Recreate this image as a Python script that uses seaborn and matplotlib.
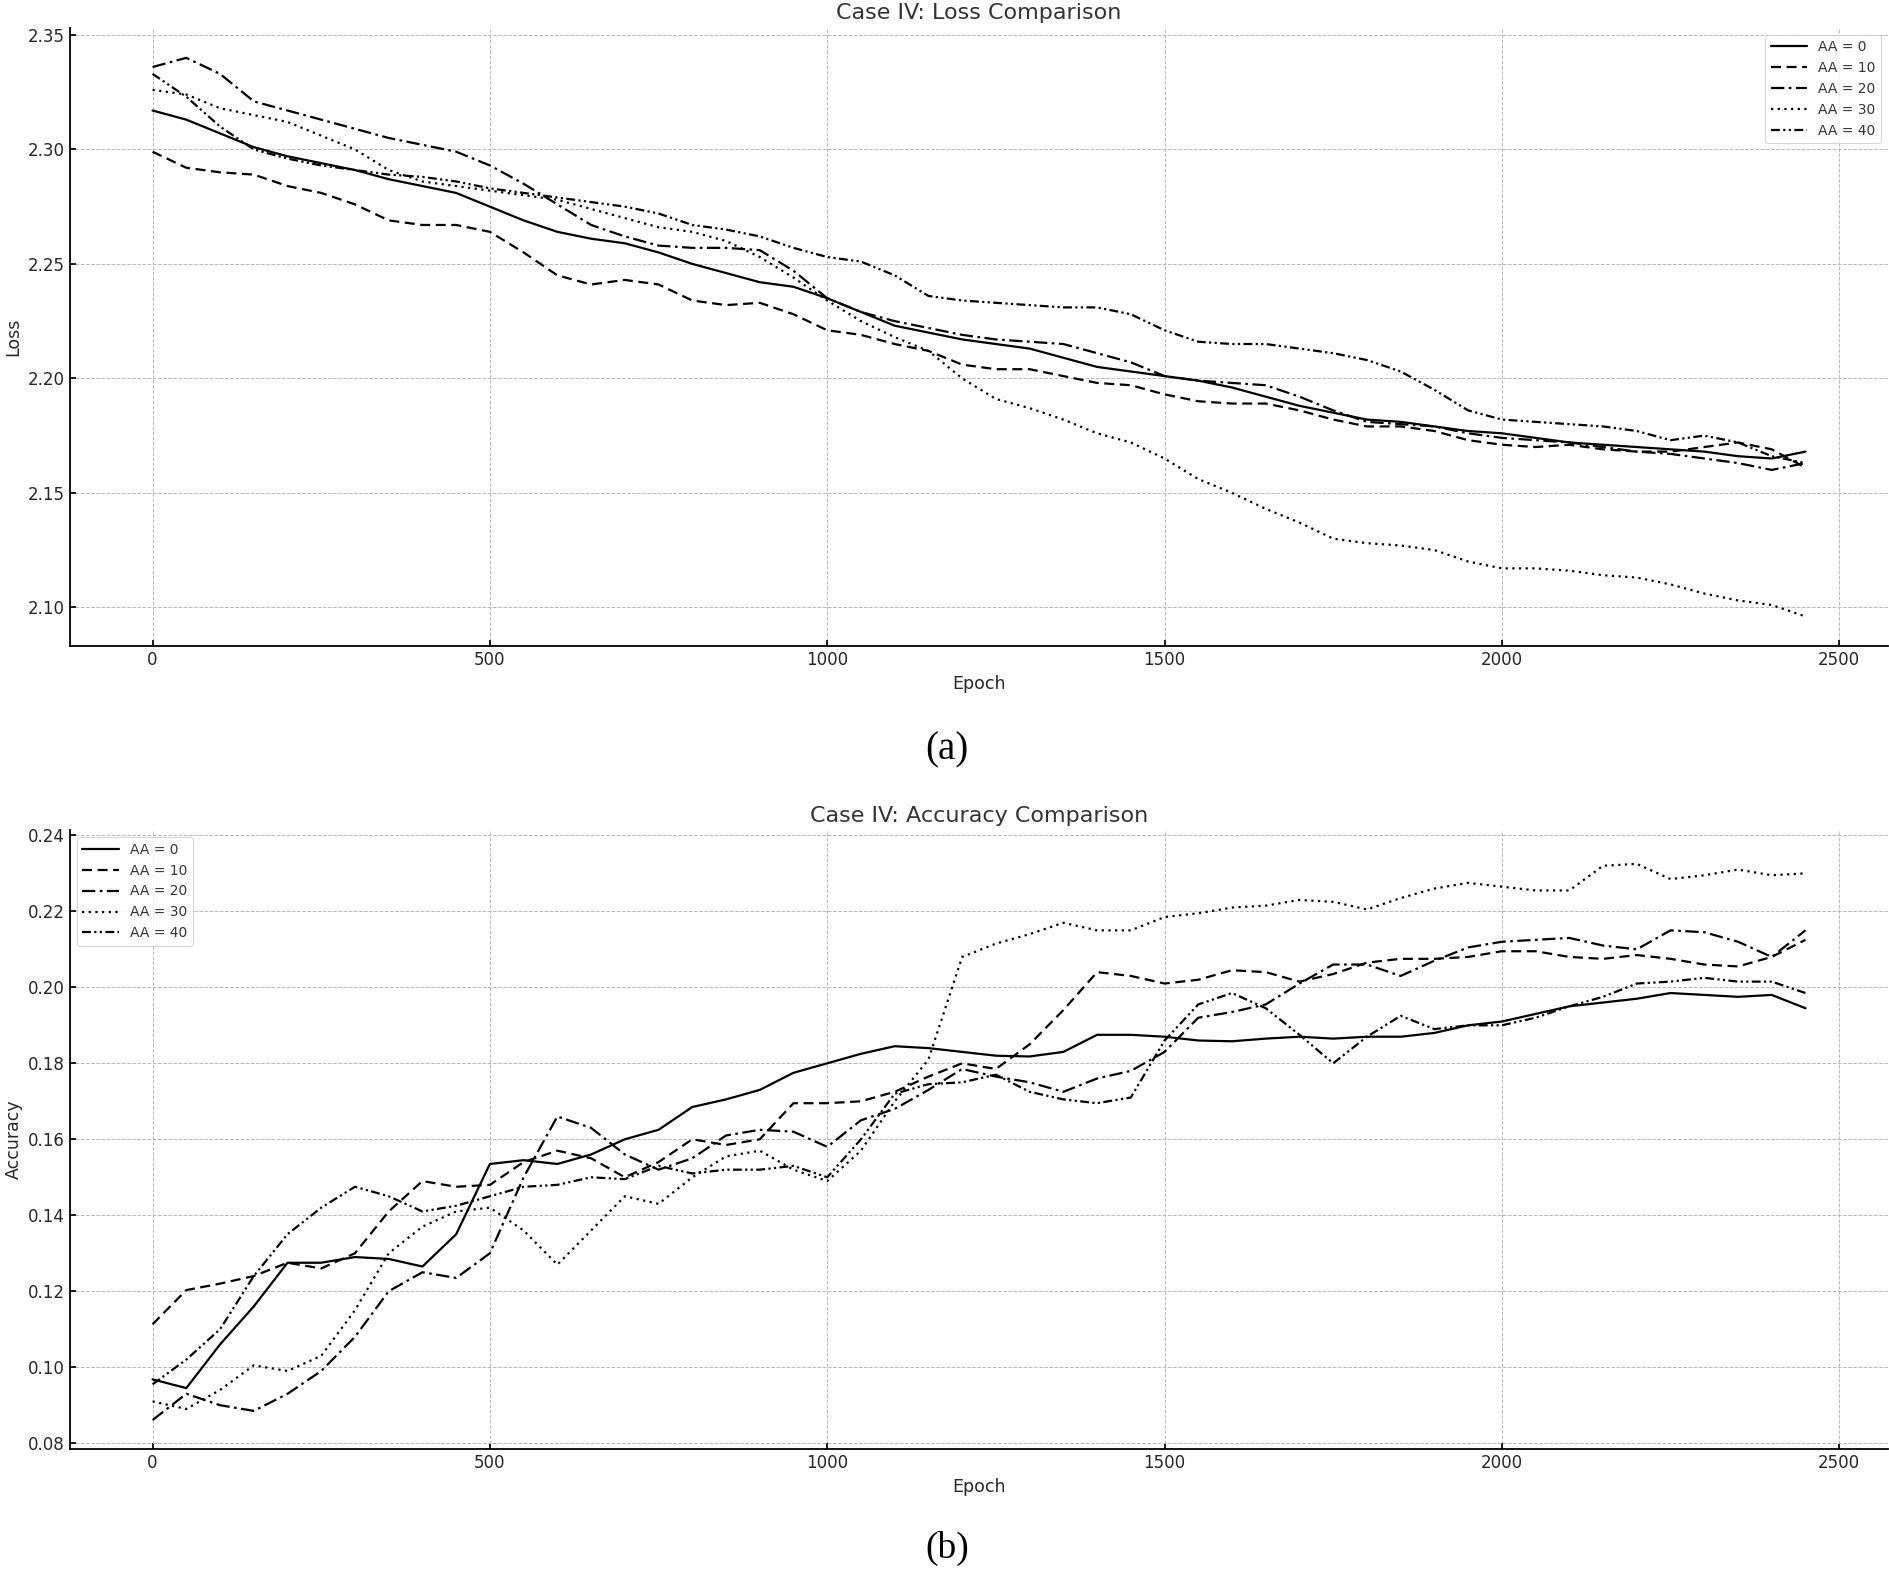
import numpy as np
import pandas as pd
import matplotlib
matplotlib.use("Agg")
import matplotlib.pyplot as plt
import seaborn as sns

# ---------------- data ----------------
epochs = list(range(0, 2451, 50))
series_labels = ["AA = 0", "AA = 10", "AA = 20", "AA = 30", "AA = 40"]

loss_aa0 = [2.317, 2.313, 2.307, 2.301, 2.297, 2.294, 2.291, 2.287, 2.284, 2.281,
            2.275, 2.269, 2.264, 2.261, 2.259, 2.255, 2.250, 2.246, 2.242, 2.240,
            2.235, 2.229, 2.223, 2.220, 2.217, 2.215, 2.213, 2.209, 2.205, 2.203,
            2.201, 2.199, 2.196, 2.192, 2.188, 2.185, 2.182, 2.181, 2.179, 2.177,
            2.176, 2.174, 2.172, 2.171, 2.170, 2.169, 2.168, 2.166, 2.165, 2.168]
loss_aa10 = [2.299, 2.292, 2.290, 2.289, 2.284, 2.281, 2.276, 2.269, 2.267, 2.267,
             2.264, 2.255, 2.245, 2.241, 2.243, 2.241, 2.234, 2.232, 2.233, 2.228,
             2.221, 2.219, 2.215, 2.212, 2.206, 2.204, 2.204, 2.201, 2.198, 2.197,
             2.193, 2.190, 2.189, 2.189, 2.186, 2.182, 2.179, 2.179, 2.177, 2.173,
             2.171, 2.170, 2.171, 2.169, 2.168, 2.168, 2.170, 2.172, 2.169, 2.161]
loss_aa20 = [2.336, 2.340, 2.333, 2.321, 2.317, 2.313, 2.309, 2.305, 2.302, 2.299,
             2.293, 2.285, 2.276, 2.267, 2.262, 2.258, 2.257, 2.257, 2.256, 2.247,
             2.235, 2.229, 2.225, 2.222, 2.219, 2.217, 2.216, 2.215, 2.211, 2.207,
             2.201, 2.199, 2.198, 2.197, 2.192, 2.186, 2.181, 2.180, 2.179, 2.176,
             2.174, 2.173, 2.172, 2.170, 2.168, 2.167, 2.165, 2.163, 2.160, 2.163]
loss_aa30 = [2.326, 2.324, 2.318, 2.315, 2.312, 2.306, 2.300, 2.291, 2.286, 2.284,
             2.282, 2.280, 2.278, 2.274, 2.270, 2.266, 2.264, 2.260, 2.253, 2.244,
             2.234, 2.225, 2.218, 2.212, 2.200, 2.191, 2.187, 2.182, 2.176, 2.172,
             2.165, 2.156, 2.150, 2.143, 2.137, 2.130, 2.128, 2.127, 2.125, 2.120,
             2.117, 2.117, 2.116, 2.114, 2.113, 2.110, 2.106, 2.103, 2.101, 2.096]
loss_aa40 = [2.333, 2.323, 2.310, 2.300, 2.296, 2.293, 2.291, 2.289, 2.288, 2.286,
             2.283, 2.281, 2.279, 2.277, 2.275, 2.272, 2.267, 2.265, 2.262, 2.257,
             2.253, 2.251, 2.245, 2.236, 2.234, 2.233, 2.232, 2.231, 2.231, 2.228,
             2.221, 2.216, 2.215, 2.215, 2.213, 2.211, 2.208, 2.203, 2.195, 2.186,
             2.182, 2.181, 2.180, 2.179, 2.177, 2.173, 2.175, 2.172, 2.166, 2.163]

acc_aa0 = [0.0968, 0.0945, 0.1060, 0.1160, 0.1275, 0.1275, 0.1290, 0.1285, 0.1265, 0.1350,
           0.1535, 0.1545, 0.1535, 0.1560, 0.1600, 0.1625, 0.1685, 0.1705, 0.1730, 0.1775,
           0.1800, 0.1825, 0.1845, 0.1840, 0.1830, 0.1820, 0.1818, 0.1830, 0.1875, 0.1875,
           0.1870, 0.1860, 0.1858, 0.1865, 0.1870, 0.1865, 0.1870, 0.1870, 0.1880, 0.1900,
           0.1910, 0.1930, 0.1950, 0.1960, 0.1970, 0.1985, 0.1980, 0.1975, 0.1980, 0.1945]
acc_aa10 = [0.1113, 0.1203, 0.1220, 0.1240, 0.1275, 0.1260, 0.1300, 0.1410, 0.1490, 0.1475,
            0.1480, 0.1540, 0.1570, 0.1550, 0.1500, 0.1540, 0.1600, 0.1585, 0.1600, 0.1695,
            0.1695, 0.1700, 0.1725, 0.1765, 0.1800, 0.1785, 0.1850, 0.1940, 0.2040, 0.2030,
            0.2010, 0.2020, 0.2045, 0.2040, 0.2015, 0.2035, 0.2065, 0.2075, 0.2075, 0.2080,
            0.2095, 0.2095, 0.2080, 0.2075, 0.2085, 0.2075, 0.2060, 0.2055, 0.2080, 0.2125]
acc_aa20 = [0.0861, 0.0930, 0.0900, 0.0885, 0.0930, 0.0990, 0.1080, 0.1200, 0.1250, 0.1235,
            0.1300, 0.1500, 0.1660, 0.1630, 0.1560, 0.1520, 0.1550, 0.1610, 0.1625, 0.1620,
            0.1580, 0.1650, 0.1680, 0.1730, 0.1785, 0.1765, 0.1750, 0.1725, 0.1760, 0.1780,
            0.1830, 0.1920, 0.1935, 0.1955, 0.2010, 0.2060, 0.2060, 0.2030, 0.2070, 0.2105,
            0.2120, 0.2125, 0.2130, 0.2110, 0.2100, 0.2150, 0.2145, 0.2120, 0.2080, 0.2150]
acc_aa30 = [0.0910, 0.0890, 0.0940, 0.1005, 0.0990, 0.1030, 0.1150, 0.1300, 0.1370, 0.1410,
            0.1420, 0.1360, 0.1270, 0.1360, 0.1450, 0.1430, 0.1500, 0.1555, 0.1570, 0.1520,
            0.1490, 0.1570, 0.1700, 0.1810, 0.2080, 0.2115, 0.2140, 0.2170, 0.2150, 0.2150,
            0.2185, 0.2195, 0.2210, 0.2215, 0.2230, 0.2225, 0.2205, 0.2235, 0.2260, 0.2275,
            0.2265, 0.2255, 0.2255, 0.2320, 0.2325, 0.2285, 0.2295, 0.2310, 0.2295, 0.2300]
acc_aa40 = [0.0955, 0.1020, 0.1100, 0.1240, 0.1350, 0.1420, 0.1475, 0.1450, 0.1410, 0.1425,
            0.1450, 0.1475, 0.1480, 0.1500, 0.1495, 0.1530, 0.1510, 0.1520, 0.1520, 0.1530,
            0.1500, 0.1600, 0.1720, 0.1745, 0.1750, 0.1770, 0.1725, 0.1705, 0.1695, 0.1710,
            0.1860, 0.1955, 0.1985, 0.1945, 0.1875, 0.1800, 0.1870, 0.1925, 0.1890, 0.1900,
            0.1900, 0.1920, 0.1950, 0.1975, 0.2010, 0.2015, 0.2025, 0.2015, 0.2015, 0.1985]

loss_series = [loss_aa0, loss_aa10, loss_aa20, loss_aa30, loss_aa40]
acc_series = [acc_aa0, acc_aa10, acc_aa20, acc_aa30, acc_aa40]

# ---------------- style ----------------
sns.set_theme(style="ticks")
plt.rcParams.update({
    "font.family": ["DejaVu Sans"],
    "axes.edgecolor": "black",
    "axes.linewidth": 1.3,
    "xtick.direction": "in",
    "ytick.direction": "in",
    "xtick.major.size": 4,
    "ytick.major.size": 4,
    "xtick.color": "black",
    "ytick.color": "black",
    "xtick.labelcolor": "#262626",
    "ytick.labelcolor": "#262626",
})

line_styles = ["-", (0, (4.5, 2.5)), (0, (6, 2, 1.2, 2)), (0, (1, 2)),
               (0, (4, 1.5, 1, 1.5, 1, 1.5))]

fig = plt.figure(figsize=(18.9, 15.7), dpi=100)
ax1 = fig.add_axes([0.0370, 0.5884, 0.962, 0.394])
ax2 = fig.add_axes([0.0370, 0.0769, 0.962, 0.3944])


def draw(ax, series, title, ylabel, legend_loc):
    for vals, lab, ls in zip(series, series_labels, line_styles):
        df = pd.DataFrame({"Epoch": epochs, "val": vals})
        sns.lineplot(data=df, x="Epoch", y="val", ax=ax, color="black",
                     linestyle=ls, linewidth=1.6, label=lab)
    ax.set_title(title, fontsize=16, color="#333333", pad=6)
    ax.set_xlabel("Epoch", fontsize=12.5, color="#262626")
    ax.set_ylabel(ylabel, fontsize=12.5, color="#262626")
    ax.tick_params(labelsize=12)
    ax.grid(True, linestyle="--", linewidth=0.7, color="#b8b8b8")
    ax.set_axisbelow(True)
    sns.despine(ax=ax)
    ax.set_xlim(-122.5, 2572.5)
    leg = ax.legend(loc=legend_loc, fontsize=10, frameon=True, handlelength=2.6,
                    labelcolor="#333333")
    leg.get_frame().set_edgecolor("#cccccc")
    leg.get_frame().set_linewidth(0.8)


draw(ax1, loss_series, "Case IV: Loss Comparison", "Loss", "upper right")
ax1.set_ylim(2.0830, 2.3532)
ax1.set_yticks([2.10, 2.15, 2.20, 2.25, 2.30, 2.35])
ax1.yaxis.set_major_formatter(matplotlib.ticker.FormatStrFormatter("%.2f"))

draw(ax2, acc_series, "Case IV: Accuracy Comparison", "Accuracy", "upper left")
ax2.set_ylim(0.0784, 0.2414)
ax2.set_yticks([0.08, 0.10, 0.12, 0.14, 0.16, 0.18, 0.20, 0.22, 0.24])
ax2.yaxis.set_major_formatter(matplotlib.ticker.FormatStrFormatter("%.2f"))

for ax in (ax1, ax2):
    ax.set_xticks([0, 500, 1000, 1500, 2000, 2500])

fig.text(0.501, 1 - 750 / 1570, "(a)", ha="center", va="center",
         family=["Liberation Serif"], fontsize=28, color="black")
fig.text(0.501, 1 - 1548 / 1570, "(b)", ha="center", va="center",
         family=["Liberation Serif"], fontsize=27, color="black")

fig.savefig("out.png", dpi=100)
